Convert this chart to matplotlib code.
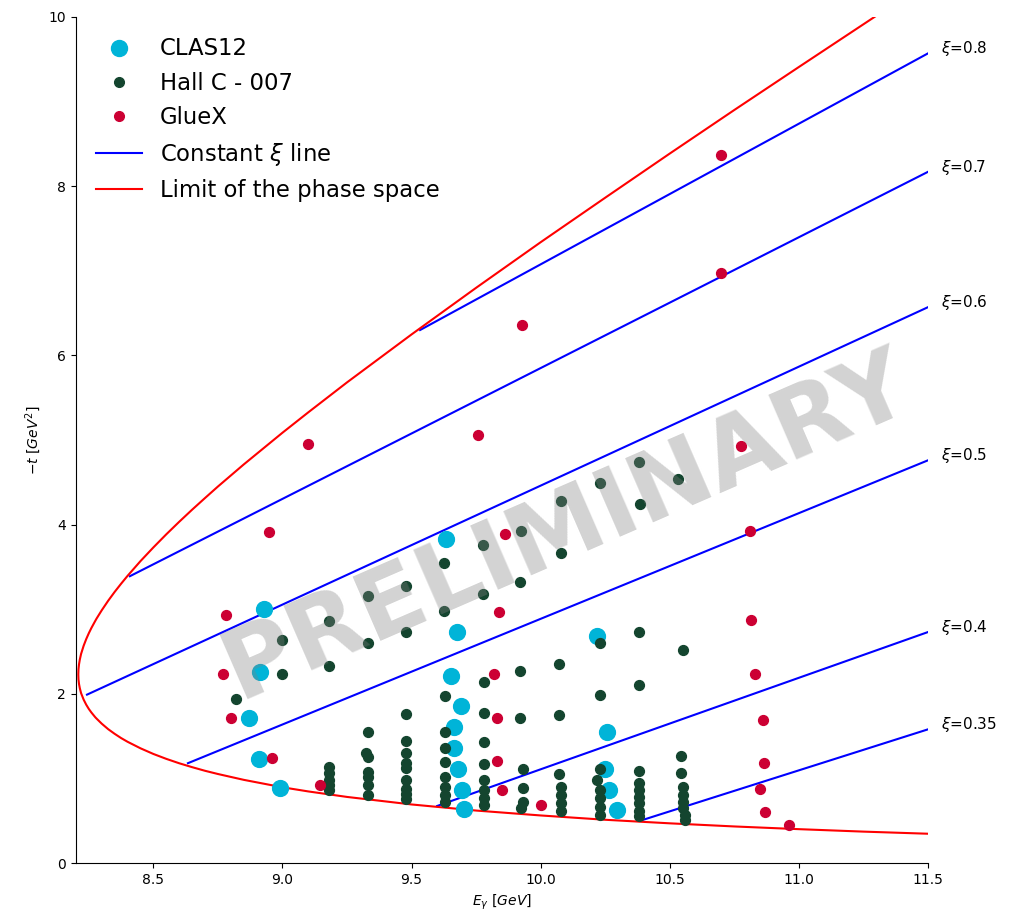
import matplotlib
matplotlib.use("Agg")
import matplotlib.pyplot as plt
from matplotlib.lines import Line2D

# CLAS12 points
clas_E = [8.929, 8.913, 8.870, 8.910, 8.990,
          9.634, 9.677, 9.653, 9.692, 9.665, 9.665, 9.680, 9.696, 9.704,
          10.219, 10.258, 10.250, 10.266, 10.297]
clas_t = [3.00, 2.26, 1.71, 1.23, 0.89,
          3.83, 2.73, 2.21, 1.86, 1.61, 1.36, 1.11, 0.86, 0.64,
          2.68, 1.55, 1.11, 0.86, 0.63]

# Hall C - 007 points (one row per beam energy column)
hallc_E = [8.82,
           9.00, 9.00,
           9.18, 9.18, 9.18, 9.18, 9.18, 9.18, 9.18,
           9.33, 9.33, 9.33, 9.325, 9.33, 9.33, 9.33, 9.33, 9.33,
           9.48, 9.48, 9.48, 9.48, 9.48, 9.48, 9.48, 9.48, 9.48, 9.48, 9.48,
           9.625, 9.625, 9.63, 9.63, 9.63, 9.63, 9.63, 9.63, 9.63, 9.63,
           9.775, 9.775, 9.78, 9.78, 9.78, 9.78, 9.78, 9.78, 9.78, 9.78,
           9.925, 9.92, 9.92, 9.92, 9.93, 9.93, 9.93, 9.925,
           10.08, 10.08, 10.07, 10.07, 10.07, 10.08, 10.08, 10.08, 10.08,
           10.23, 10.23, 10.23, 10.23, 10.22, 10.23, 10.23, 10.23, 10.23,
           10.38, 10.385, 10.38, 10.38, 10.38, 10.38, 10.38, 10.38, 10.38, 10.38, 10.38,
           10.53, 10.55, 10.545, 10.545, 10.55, 10.55, 10.55, 10.55, 10.56, 10.56]
hallc_t = [1.94,
           2.64, 2.23,
           2.86, 2.33, 1.13, 1.06, 0.98, 0.92, 0.86,
           3.16, 2.60, 1.55, 1.30, 1.25, 1.08, 1.02, 0.92, 0.80,
           3.28, 2.73, 1.76, 1.44, 1.30, 1.18, 1.12, 0.98, 0.87, 0.82, 0.76,
           3.55, 2.98, 1.97, 1.55, 1.36, 1.19, 1.02, 0.90, 0.80, 0.72,
           3.76, 3.18, 2.14, 1.77, 1.43, 1.17, 0.98, 0.86, 0.77, 0.68,
           3.92, 3.32, 2.27, 1.71, 1.11, 0.89, 0.72, 0.65,
           4.28, 3.66, 2.35, 1.75, 1.05, 0.90, 0.80, 0.71, 0.61,
           4.49, 2.60, 1.99, 1.11, 0.98, 0.86, 0.77, 0.66, 0.57,
           4.74, 4.24, 2.73, 2.10, 1.09, 0.94, 0.86, 0.78, 0.71, 0.62, 0.55,
           4.54, 2.52, 1.26, 1.06, 0.90, 0.80, 0.72, 0.65, 0.57, 0.51]

# GlueX points
gluex_E = [8.78, 8.77, 8.80, 8.96, 8.948, 9.099, 9.146,
           9.758, 9.929, 9.863, 9.84, 9.82, 9.83, 9.83, 9.85, 10.00,
           10.70, 10.70, 10.777, 10.81, 10.816, 10.83, 10.86, 10.863, 10.85, 10.87, 10.96]
gluex_t = [2.93, 2.23, 1.71, 1.24, 3.91, 4.95, 0.92,
           5.06, 6.36, 3.89, 2.97, 2.23, 1.71, 1.21, 0.86, 0.69,
           8.37, 6.97, 4.93, 3.92, 2.87, 2.23, 1.69, 1.18, 0.87, 0.60, 0.45]

# phase space limit: lower and upper -t vs E_gamma
lim_E = [8.2093, 8.210, 8.212, 8.215, 8.22, 8.23, 8.24, 8.25, 8.26, 8.275, 8.28, 8.30,
         8.325, 8.35, 8.375, 8.40, 8.45, 8.50, 8.55, 8.60, 8.65, 8.70, 8.75, 8.85,
         9.00, 9.10, 9.25, 9.50, 9.75, 10.00, 10.25, 10.50, 10.75, 11.00, 11.25, 11.30, 11.50]
lim_low = [2.229, 2.170, 2.117, 2.068, 2.008, 1.931, 1.871, 1.821, 1.779, 1.723, 1.707, 1.647,
           1.582, 1.527, 1.477, 1.433, 1.356, 1.289, 1.231, 1.179, 1.133, 1.090, 1.052, 0.983,
           0.895, 0.846, 0.781, 0.692, 0.620, 0.562, 0.511, 0.469, 0.432, 0.400, 0.371, 0.366, 0.346]
lim_up = [2.229, 2.290, 2.347, 2.402, 2.471, 2.568, 2.647, 2.716, 2.778, 2.862, 2.889, 2.987,
          3.100, 3.204, 3.301, 3.394, 3.568, 3.730, 3.885, 4.033, 4.176, 4.314, 4.450, 4.711,
          5.086, 5.327, 5.681, 6.248, 6.799, 7.338, 7.864, 8.386, 8.901, 9.409, 9.914, 10.015, 10.42]

# constant xi lines (start and end)
xi_labels = ["0.8", "0.7", "0.6", "0.5", "0.4", "0.35"]
xi_E = [[9.533, 11.5], [8.409, 11.5], [8.243, 11.5], [8.634, 11.5], [9.599, 11.5], [10.394, 11.5]]
xi_t = [[6.30, 9.57], [3.39, 8.17], [1.99, 6.57], [1.18, 4.76], [0.674, 2.73], [0.508, 1.58]]

fig, ax = plt.subplots(figsize=(10.12, 9.23), dpi=100)
fig.subplots_adjust(left=0.075, right=0.917, bottom=0.065, top=0.9816)

for lab, xe, xt in zip(xi_labels, xi_E, xi_t):
    ax.plot(xe, xt, color='blue', lw=1.5, zorder=2)
    ax.text(xe[-1] + 0.052, xt[-1] + 0.055, r'$\xi$=' + lab, fontsize=11,
            va='center', ha='left', clip_on=False)

ax.plot(lim_E[::-1] + lim_E, lim_up[::-1] + lim_low, color='red', lw=1.5, zorder=2)

ax.scatter(clas_E, clas_t, s=130, color='#00b4d8', zorder=3, label='CLAS12')
ax.scatter(hallc_E, hallc_t, s=50, color='#14452f', zorder=3, label='Hall C - 007')
ax.scatter(gluex_E, gluex_t, s=50, color='#cc0033', zorder=3, label='GlueX')

ax.text(10.1, 3.97, 'PRELIMINARY', fontsize=70, fontweight='bold', color='gray',
        alpha=0.35, rotation=23.5, ha='center', va='center', zorder=10)

handles = [
    Line2D([], [], marker='o', ls='', color='#00b4d8', markersize=11.5),
    Line2D([], [], marker='o', ls='', color='#14452f', markersize=7),
    Line2D([], [], marker='o', ls='', color='#cc0033', markersize=7),
    Line2D([], [], color='blue', lw=1.5),
    Line2D([], [], color='red', lw=1.5),
]
labels = ['CLAS12', 'Hall C - 007', 'GlueX', r'Constant $\xi$ line', 'Limit of the phase space']
ax.legend(handles, labels, loc='upper left', frameon=False, fontsize=16.4)

ax.set_xlim(8.2, 11.5)
ax.set_ylim(0, 10)
ax.set_xlabel(r'$E_{\gamma}\ [GeV]$')
ax.set_ylabel(r'$-t\ [GeV^2]$')
ax.spines['top'].set_visible(False)
ax.spines['right'].set_visible(False)

fig.savefig('out.png', dpi=100)
